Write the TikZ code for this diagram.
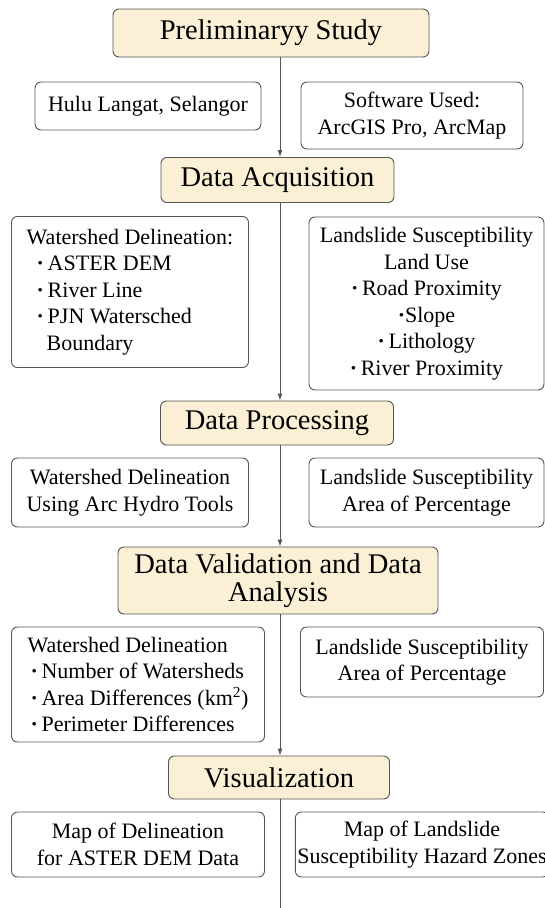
\documentclass[tikz,border=0pt]{standalone}
\usepackage{fontspec}
\setmainfont{Liberation Serif}
\usepackage{tikz}
\usetikzlibrary{arrows.meta,positioning}
\definecolor{StageFill}{HTML}{FBF0D5}
\definecolor{EdgeGray}{HTML}{555555}
\newcommand{\listdot}{{\bfseries ·}}
\tikzset{
  stage/.style={draw=EdgeGray, line width=0.9pt, rounded corners=6pt, fill=StageFill, align=center, inner sep=2pt, font=\fontsize{28.5}{27.5}\selectfont},
  info/.style={draw=EdgeGray, line width=0.9pt, rounded corners=6pt, fill=white, align=center, inner sep=2pt, font=\fontsize{22}{26.5}\selectfont},
  arr/.style={-{Latex[length=7pt,width=5pt]}, line width=0.9pt, draw=EdgeGray},
  spineline/.style={line width=0.9pt, draw=EdgeGray}
}

\begin{document}
\begin{tikzpicture}[x=1pt,y=-1pt]
\useasboundingbox (0,0) rectangle (545,908);
\coordinate (spine) at (280,0);
\coordinate (tail) at (280,908);
\node[stage,minimum width=316pt,minimum height=48pt] (prelim) at (271,33) {Preliminaryy Study};
\node[info,minimum width=226pt,minimum height=48pt] (site) at (148,106) {Hulu Langat, Selangor};
\node[info,minimum width=222pt,minimum height=67pt] (soft) at (412,115.5) {Software Used:\\ArcGIS Pro, ArcMap};
\node[stage,minimum width=233pt,minimum height=45pt] (acq) at (277.5,180) {Data Acquisition};
\node[info,align=left,minimum width=237pt,minimum height=151pt] (acqws) at (130,292) {Watershed Delineation:\\\hspace*{10pt}\listdot\,ASTER DEM\\\hspace*{10pt}\listdot\,River Line\\\hspace*{10pt}\listdot\,PJN Watersched\\\hspace*{20pt}Boundary};
\node[info,minimum width=235pt,minimum height=173pt] (acqls) at (426.5,303.5) {Landslide Susceptibility\\Land Use\\\listdot\,Road Proximity\\\listdot Slope\\\listdot\,Lithology\\\listdot\,River Proximity};
\node[stage,minimum width=233pt,minimum height=44pt] (proc) at (277,423) {Data Processing};
\node[info,minimum width=237pt,minimum height=69pt] (procws) at (130,492.5) {Watershed Delineation\\Using Arc Hydro Tools};
\node[info,minimum width=235pt,minimum height=69pt] (procls) at (426.5,492.5) {Landslide Susceptibility\\Area of Percentage};
\node[stage,minimum width=320pt,minimum height=67pt] (valid) at (278,580.5) {Data Validation and Data\\Analysis};
\node[info,align=left,minimum width=253pt,minimum height=115pt] (validws) at (138,684.5) {Watershed Delineation\\\hspace*{3pt}\listdot\,Number of Watersheds\\\hspace*{3pt}\listdot\,Area Differences (km\textsuperscript{2})\\\hspace*{3pt}\listdot\,Perimeter Differences};
\node[info,minimum width=243pt,minimum height=70pt] (validls) at (422,662) {Landslide Susceptibility\\Area of Percentage};
\node[stage,minimum width=221pt,minimum height=43pt] (vis) at (279,777.5) {Visualization};
\node[info,minimum width=253pt,minimum height=65pt] (visws) at (138,844.5) {Map of Delineation\\for ASTER DEM Data};
\node[info,minimum width=243pt,minimum height=65pt] (visls) at (422,844.5) {Map of Landslide\\Susceptibility Hazard Zones};
\draw[arr] (prelim.south -| spine) -- (acq.north -| spine);
\draw[arr] (acq.south -| spine) -- (proc.north -| spine);
\draw[arr] (proc.south -| spine) -- (valid.north -| spine);
\draw[arr] (valid.south -| spine) -- (vis.north -| spine);
\draw[spineline] (vis.south -| spine) -- (tail);
\end{tikzpicture}
\end{document}
